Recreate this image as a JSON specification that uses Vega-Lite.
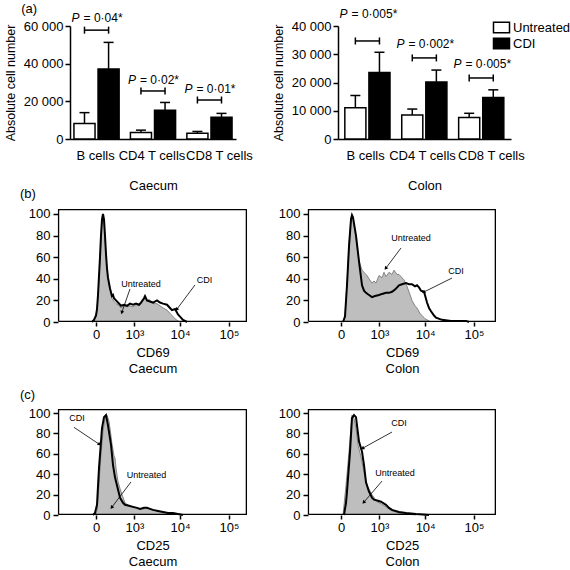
{
  "$schema": "https://vega.github.io/schema/vega-lite/v6.json",
  "padding": {"left": 3, "top": 2, "right": 0, "bottom": 0},
  "background": "white",
  "config": {
    "font": "Liberation Sans",
    "view": {"stroke": null},
    "axis": {"labelFont": "Liberation Sans", "titleFont": "Liberation Sans", "labelColor": "black", "titleColor": "black", "domainColor": "black", "tickColor": "black", "labelFontSize": 13, "titleFontSize": 13, "titleFontWeight": "normal", "grid": false},
    "title": {"font": "Liberation Sans", "fontSize": 13, "fontWeight": "normal", "color": "black"},
    "legend": {"labelFont": "Liberation Sans"}
  },
  "datasets": {
    "bars": [
      {"site": "Caecum", "cell": "B cells", "group": "Untreated", "mean": 8200, "upper": 14000},
      {"site": "Caecum", "cell": "B cells", "group": "CDI", "mean": 37200, "upper": 51300},
      {"site": "Caecum", "cell": "CD4 T cells", "group": "Untreated", "mean": 3400, "upper": 4700},
      {"site": "Caecum", "cell": "CD4 T cells", "group": "CDI", "mean": 15300, "upper": 19400},
      {"site": "Caecum", "cell": "CD8 T cells", "group": "Untreated", "mean": 3100, "upper": 4000},
      {"site": "Caecum", "cell": "CD8 T cells", "group": "CDI", "mean": 11500, "upper": 13600},
      {"site": "Colon", "cell": "B cells", "group": "Untreated", "mean": 11100, "upper": 15400},
      {"site": "Colon", "cell": "B cells", "group": "CDI", "mean": 23500, "upper": 30700},
      {"site": "Colon", "cell": "CD4 T cells", "group": "Untreated", "mean": 8500, "upper": 10600},
      {"site": "Colon", "cell": "CD4 T cells", "group": "CDI", "mean": 20200, "upper": 24400},
      {"site": "Colon", "cell": "CD8 T cells", "group": "Untreated", "mean": 7600, "upper": 9100},
      {"site": "Colon", "cell": "CD8 T cells", "group": "CDI", "mean": 14700, "upper": 17400}
    ],
    "brackets": [
      {"site": "Caecum", "cell": "B cells", "group": "Untreated", "level": 57800},
      {"site": "Caecum", "cell": "B cells", "group": "CDI", "level": 57800},
      {"site": "Caecum", "cell": "CD4 T cells", "group": "Untreated", "level": 25500},
      {"site": "Caecum", "cell": "CD4 T cells", "group": "CDI", "level": 25500},
      {"site": "Caecum", "cell": "CD8 T cells", "group": "Untreated", "level": 20700},
      {"site": "Caecum", "cell": "CD8 T cells", "group": "CDI", "level": 20700},
      {"site": "Colon", "cell": "B cells", "group": "Untreated", "level": 34700},
      {"site": "Colon", "cell": "B cells", "group": "CDI", "level": 34700},
      {"site": "Colon", "cell": "CD4 T cells", "group": "Untreated", "level": 28700},
      {"site": "Colon", "cell": "CD4 T cells", "group": "CDI", "level": 28700},
      {"site": "Colon", "cell": "CD8 T cells", "group": "Untreated", "level": 21600},
      {"site": "Colon", "cell": "CD8 T cells", "group": "CDI", "level": 21600}
    ],
    "pvals": [
      {"site": "Caecum", "cell": "B cells", "ylab": 64200, "rest": "= 0·04*"},
      {"site": "Caecum", "cell": "CD4 T cells", "ylab": 31300, "rest": "= 0·02*"},
      {"site": "Caecum", "cell": "CD8 T cells", "ylab": 26500, "rest": "= 0·01*"},
      {"site": "Colon", "cell": "B cells", "ylab": 44300, "rest": "= 0·005*"},
      {"site": "Colon", "cell": "CD4 T cells", "ylab": 33600, "rest": "= 0·002*"},
      {"site": "Colon", "cell": "CD8 T cells", "ylab": 26600, "rest": "= 0·005*"}
    ],
    "hist": [
      {"p": "bCa", "s": "CDI", "fx": -41, "n": 0},
      {"p": "bCa", "s": "CDI", "fx": -20, "n": 2},
      {"p": "bCa", "s": "CDI", "fx": 0, "n": 6},
      {"p": "bCa", "s": "CDI", "fx": 9.6, "n": 12},
      {"p": "bCa", "s": "CDI", "fx": 19.6, "n": 25},
      {"p": "bCa", "s": "CDI", "fx": 41, "n": 60},
      {"p": "bCa", "s": "CDI", "fx": 52.6, "n": 80},
      {"p": "bCa", "s": "CDI", "fx": 64.7, "n": 95},
      {"p": "bCa", "s": "CDI", "fx": 77.4, "n": 100},
      {"p": "bCa", "s": "CDI", "fx": 90.7, "n": 95},
      {"p": "bCa", "s": "CDI", "fx": 104.6, "n": 80},
      {"p": "bCa", "s": "CDI", "fx": 119, "n": 63},
      {"p": "bCa", "s": "CDI", "fx": 134, "n": 50},
      {"p": "bCa", "s": "CDI", "fx": 150, "n": 41},
      {"p": "bCa", "s": "CDI", "fx": 185, "n": 31},
      {"p": "bCa", "s": "CDI", "fx": 222, "n": 24},
      {"p": "bCa", "s": "CDI", "fx": 243, "n": 25},
      {"p": "bCa", "s": "CDI", "fx": 264, "n": 22},
      {"p": "bCa", "s": "CDI", "fx": 309, "n": 20},
      {"p": "bCa", "s": "CDI", "fx": 359, "n": 18},
      {"p": "bCa", "s": "CDI", "fx": 443, "n": 15},
      {"p": "bCa", "s": "CDI", "fx": 540, "n": 16},
      {"p": "bCa", "s": "CDI", "fx": 651, "n": 15},
      {"p": "bCa", "s": "CDI", "fx": 780, "n": 17},
      {"p": "bCa", "s": "CDI", "fx": 927, "n": 16},
      {"p": "bCa", "s": "CDI", "fx": 1097, "n": 17},
      {"p": "bCa", "s": "CDI", "fx": 1292, "n": 16},
      {"p": "bCa", "s": "CDI", "fx": 1438, "n": 18},
      {"p": "bCa", "s": "CDI", "fx": 1684, "n": 22},
      {"p": "bCa", "s": "CDI", "fx": 1775, "n": 24},
      {"p": "bCa", "s": "CDI", "fx": 1968, "n": 20},
      {"p": "bCa", "s": "CDI", "fx": 2294, "n": 19},
      {"p": "bCa", "s": "CDI", "fx": 2670, "n": 18},
      {"p": "bCa", "s": "CDI", "fx": 3260, "n": 20},
      {"p": "bCa", "s": "CDI", "fx": 3780, "n": 18},
      {"p": "bCa", "s": "CDI", "fx": 4380, "n": 17},
      {"p": "bCa", "s": "CDI", "fx": 5320, "n": 16},
      {"p": "bCa", "s": "CDI", "fx": 6150, "n": 13},
      {"p": "bCa", "s": "CDI", "fx": 6770, "n": 11},
      {"p": "bCa", "s": "CDI", "fx": 7820, "n": 12},
      {"p": "bCa", "s": "CDI", "fx": 9030, "n": 7},
      {"p": "bCa", "s": "CDI", "fx": 9932, "n": 5},
      {"p": "bCa", "s": "CDI", "fx": 11460, "n": 2},
      {"p": "bCa", "s": "CDI", "fx": 12600, "n": 1},
      {"p": "bCa", "s": "CDI", "fx": 13850, "n": 0},
      {"p": "bCa", "s": "Untreated", "fx": -30, "n": 0},
      {"p": "bCa", "s": "Untreated", "fx": 0, "n": 5},
      {"p": "bCa", "s": "Untreated", "fx": 19.6, "n": 22},
      {"p": "bCa", "s": "Untreated", "fx": 41, "n": 57},
      {"p": "bCa", "s": "Untreated", "fx": 52.6, "n": 77},
      {"p": "bCa", "s": "Untreated", "fx": 64.7, "n": 93},
      {"p": "bCa", "s": "Untreated", "fx": 77.4, "n": 98},
      {"p": "bCa", "s": "Untreated", "fx": 90.7, "n": 94},
      {"p": "bCa", "s": "Untreated", "fx": 104.6, "n": 79},
      {"p": "bCa", "s": "Untreated", "fx": 119, "n": 62},
      {"p": "bCa", "s": "Untreated", "fx": 134, "n": 49},
      {"p": "bCa", "s": "Untreated", "fx": 150, "n": 40},
      {"p": "bCa", "s": "Untreated", "fx": 185, "n": 30},
      {"p": "bCa", "s": "Untreated", "fx": 222, "n": 22},
      {"p": "bCa", "s": "Untreated", "fx": 264, "n": 19},
      {"p": "bCa", "s": "Untreated", "fx": 309, "n": 17},
      {"p": "bCa", "s": "Untreated", "fx": 359, "n": 16},
      {"p": "bCa", "s": "Untreated", "fx": 443, "n": 13},
      {"p": "bCa", "s": "Untreated", "fx": 540, "n": 15},
      {"p": "bCa", "s": "Untreated", "fx": 651, "n": 14},
      {"p": "bCa", "s": "Untreated", "fx": 780, "n": 15},
      {"p": "bCa", "s": "Untreated", "fx": 927, "n": 14},
      {"p": "bCa", "s": "Untreated", "fx": 1097, "n": 16},
      {"p": "bCa", "s": "Untreated", "fx": 1292, "n": 15},
      {"p": "bCa", "s": "Untreated", "fx": 1438, "n": 17},
      {"p": "bCa", "s": "Untreated", "fx": 1684, "n": 21},
      {"p": "bCa", "s": "Untreated", "fx": 1775, "n": 23},
      {"p": "bCa", "s": "Untreated", "fx": 1968, "n": 19},
      {"p": "bCa", "s": "Untreated", "fx": 2180, "n": 21},
      {"p": "bCa", "s": "Untreated", "fx": 2294, "n": 20},
      {"p": "bCa", "s": "Untreated", "fx": 2670, "n": 17},
      {"p": "bCa", "s": "Untreated", "fx": 3260, "n": 17},
      {"p": "bCa", "s": "Untreated", "fx": 3780, "n": 15},
      {"p": "bCa", "s": "Untreated", "fx": 4380, "n": 13},
      {"p": "bCa", "s": "Untreated", "fx": 5320, "n": 11},
      {"p": "bCa", "s": "Untreated", "fx": 6150, "n": 8},
      {"p": "bCa", "s": "Untreated", "fx": 6770, "n": 6},
      {"p": "bCa", "s": "Untreated", "fx": 7820, "n": 3},
      {"p": "bCa", "s": "Untreated", "fx": 9030, "n": 1},
      {"p": "bCa", "s": "Untreated", "fx": 9932, "n": 0},
      {"p": "bCo", "s": "CDI", "fx": 19.6, "n": 0},
      {"p": "bCo", "s": "CDI", "fx": 41, "n": 5},
      {"p": "bCo", "s": "CDI", "fx": 64.7, "n": 34},
      {"p": "bCo", "s": "CDI", "fx": 90.7, "n": 70},
      {"p": "bCo", "s": "CDI", "fx": 119, "n": 95},
      {"p": "bCo", "s": "CDI", "fx": 134, "n": 99},
      {"p": "bCo", "s": "CDI", "fx": 150, "n": 97},
      {"p": "bCo", "s": "CDI", "fx": 203, "n": 80},
      {"p": "bCo", "s": "CDI", "fx": 264, "n": 56},
      {"p": "bCo", "s": "CDI", "fx": 334, "n": 34},
      {"p": "bCo", "s": "CDI", "fx": 386, "n": 29},
      {"p": "bCo", "s": "CDI", "fx": 443, "n": 27},
      {"p": "bCo", "s": "CDI", "fx": 540, "n": 25},
      {"p": "bCo", "s": "CDI", "fx": 651, "n": 23},
      {"p": "bCo", "s": "CDI", "fx": 780, "n": 24},
      {"p": "bCo", "s": "CDI", "fx": 981, "n": 25},
      {"p": "bCo", "s": "CDI", "fx": 1159, "n": 26},
      {"p": "bCo", "s": "CDI", "fx": 1438, "n": 27},
      {"p": "bCo", "s": "CDI", "fx": 1684, "n": 27},
      {"p": "bCo", "s": "CDI", "fx": 1968, "n": 28},
      {"p": "bCo", "s": "CDI", "fx": 2294, "n": 30},
      {"p": "bCo", "s": "CDI", "fx": 2806, "n": 34},
      {"p": "bCo", "s": "CDI", "fx": 3260, "n": 35},
      {"p": "bCo", "s": "CDI", "fx": 3970, "n": 36},
      {"p": "bCo", "s": "CDI", "fx": 4598, "n": 35},
      {"p": "bCo", "s": "CDI", "fx": 5320, "n": 35},
      {"p": "bCo", "s": "CDI", "fx": 6150, "n": 33},
      {"p": "bCo", "s": "CDI", "fx": 6770, "n": 34},
      {"p": "bCo", "s": "CDI", "fx": 7456, "n": 32},
      {"p": "bCo", "s": "CDI", "fx": 8206, "n": 29},
      {"p": "bCo", "s": "CDI", "fx": 9480, "n": 28},
      {"p": "bCo", "s": "CDI", "fx": 10930, "n": 18},
      {"p": "bCo", "s": "CDI", "fx": 12016, "n": 13},
      {"p": "bCo", "s": "CDI", "fx": 13216, "n": 10},
      {"p": "bCo", "s": "CDI", "fx": 15240, "n": 6},
      {"p": "bCo", "s": "CDI", "fx": 16740, "n": 4},
      {"p": "bCo", "s": "CDI", "fx": 22220, "n": 2},
      {"p": "bCo", "s": "CDI", "fx": 33950, "n": 1},
      {"p": "bCo", "s": "CDI", "fx": 68600, "n": 1},
      {"p": "bCo", "s": "CDI", "fx": 78980, "n": 0},
      {"p": "bCo", "s": "Untreated", "fx": 19.6, "n": 0},
      {"p": "bCo", "s": "Untreated", "fx": 41, "n": 6},
      {"p": "bCo", "s": "Untreated", "fx": 64.7, "n": 36},
      {"p": "bCo", "s": "Untreated", "fx": 90.7, "n": 72},
      {"p": "bCo", "s": "Untreated", "fx": 119, "n": 96},
      {"p": "bCo", "s": "Untreated", "fx": 134, "n": 99},
      {"p": "bCo", "s": "Untreated", "fx": 150, "n": 96},
      {"p": "bCo", "s": "Untreated", "fx": 203, "n": 78},
      {"p": "bCo", "s": "Untreated", "fx": 264, "n": 57},
      {"p": "bCo", "s": "Untreated", "fx": 334, "n": 48},
      {"p": "bCo", "s": "Untreated", "fx": 414, "n": 45},
      {"p": "bCo", "s": "Untreated", "fx": 474, "n": 43},
      {"p": "bCo", "s": "Untreated", "fx": 540, "n": 40},
      {"p": "bCo", "s": "Untreated", "fx": 651, "n": 36},
      {"p": "bCo", "s": "Untreated", "fx": 735, "n": 38},
      {"p": "bCo", "s": "Untreated", "fx": 826, "n": 36},
      {"p": "bCo", "s": "Untreated", "fx": 981, "n": 43},
      {"p": "bCo", "s": "Untreated", "fx": 1159, "n": 41},
      {"p": "bCo", "s": "Untreated", "fx": 1292, "n": 46},
      {"p": "bCo", "s": "Untreated", "fx": 1438, "n": 42},
      {"p": "bCo", "s": "Untreated", "fx": 1684, "n": 46},
      {"p": "bCo", "s": "Untreated", "fx": 1968, "n": 44},
      {"p": "bCo", "s": "Untreated", "fx": 2180, "n": 48},
      {"p": "bCo", "s": "Untreated", "fx": 2538, "n": 44},
      {"p": "bCo", "s": "Untreated", "fx": 2806, "n": 44},
      {"p": "bCo", "s": "Untreated", "fx": 3260, "n": 41},
      {"p": "bCo", "s": "Untreated", "fx": 3598, "n": 39},
      {"p": "bCo", "s": "Untreated", "fx": 4170, "n": 33},
      {"p": "bCo", "s": "Untreated", "fx": 4598, "n": 28},
      {"p": "bCo", "s": "Untreated", "fx": 5320, "n": 20},
      {"p": "bCo", "s": "Untreated", "fx": 6150, "n": 15},
      {"p": "bCo", "s": "Untreated", "fx": 6770, "n": 13},
      {"p": "bCo", "s": "Untreated", "fx": 7820, "n": 8},
      {"p": "bCo", "s": "Untreated", "fx": 8610, "n": 6},
      {"p": "bCo", "s": "Untreated", "fx": 9932, "n": 3},
      {"p": "bCo", "s": "Untreated", "fx": 10930, "n": 2},
      {"p": "bCo", "s": "Untreated", "fx": 13216, "n": 0},
      {"p": "cCa", "s": "CDI", "fx": -30, "n": 0},
      {"p": "cCa", "s": "CDI", "fx": -9.6, "n": 2},
      {"p": "cCa", "s": "CDI", "fx": 9.6, "n": 10},
      {"p": "cCa", "s": "CDI", "fx": 30, "n": 46},
      {"p": "cCa", "s": "CDI", "fx": 52.6, "n": 72},
      {"p": "cCa", "s": "CDI", "fx": 64.7, "n": 85},
      {"p": "cCa", "s": "CDI", "fx": 90.7, "n": 96},
      {"p": "cCa", "s": "CDI", "fx": 119, "n": 98},
      {"p": "cCa", "s": "CDI", "fx": 150, "n": 88},
      {"p": "cCa", "s": "CDI", "fx": 203, "n": 69},
      {"p": "cCa", "s": "CDI", "fx": 243, "n": 49},
      {"p": "cCa", "s": "CDI", "fx": 286, "n": 37},
      {"p": "cCa", "s": "CDI", "fx": 334, "n": 29},
      {"p": "cCa", "s": "CDI", "fx": 414, "n": 17},
      {"p": "cCa", "s": "CDI", "fx": 506, "n": 12},
      {"p": "cCa", "s": "CDI", "fx": 575, "n": 10},
      {"p": "cCa", "s": "CDI", "fx": 735, "n": 9},
      {"p": "cCa", "s": "CDI", "fx": 927, "n": 8},
      {"p": "cCa", "s": "CDI", "fx": 1159, "n": 7},
      {"p": "cCa", "s": "CDI", "fx": 1363, "n": 6},
      {"p": "cCa", "s": "CDI", "fx": 1684, "n": 7},
      {"p": "cCa", "s": "CDI", "fx": 1968, "n": 7},
      {"p": "cCa", "s": "CDI", "fx": 2294, "n": 6},
      {"p": "cCa", "s": "CDI", "fx": 2670, "n": 5},
      {"p": "cCa", "s": "CDI", "fx": 3424, "n": 4},
      {"p": "cCa", "s": "CDI", "fx": 4380, "n": 3},
      {"p": "cCa", "s": "CDI", "fx": 5580, "n": 2},
      {"p": "cCa", "s": "CDI", "fx": 7106, "n": 2},
      {"p": "cCa", "s": "CDI", "fx": 9030, "n": 1},
      {"p": "cCa", "s": "CDI", "fx": 11460, "n": 0},
      {"p": "cCa", "s": "Untreated", "fx": -9.6, "n": 0},
      {"p": "cCa", "s": "Untreated", "fx": 9.6, "n": 4},
      {"p": "cCa", "s": "Untreated", "fx": 30, "n": 30},
      {"p": "cCa", "s": "Untreated", "fx": 52.6, "n": 60},
      {"p": "cCa", "s": "Untreated", "fx": 77.4, "n": 82},
      {"p": "cCa", "s": "Untreated", "fx": 104.6, "n": 95},
      {"p": "cCa", "s": "Untreated", "fx": 134, "n": 98},
      {"p": "cCa", "s": "Untreated", "fx": 167, "n": 92},
      {"p": "cCa", "s": "Untreated", "fx": 185, "n": 85},
      {"p": "cCa", "s": "Untreated", "fx": 222, "n": 70},
      {"p": "cCa", "s": "Untreated", "fx": 264, "n": 58},
      {"p": "cCa", "s": "Untreated", "fx": 286, "n": 56},
      {"p": "cCa", "s": "Untreated", "fx": 309, "n": 46},
      {"p": "cCa", "s": "Untreated", "fx": 359, "n": 33},
      {"p": "cCa", "s": "Untreated", "fx": 414, "n": 26},
      {"p": "cCa", "s": "Untreated", "fx": 474, "n": 20},
      {"p": "cCa", "s": "Untreated", "fx": 575, "n": 12},
      {"p": "cCa", "s": "Untreated", "fx": 735, "n": 9},
      {"p": "cCa", "s": "Untreated", "fx": 927, "n": 8},
      {"p": "cCa", "s": "Untreated", "fx": 1159, "n": 7},
      {"p": "cCa", "s": "Untreated", "fx": 1363, "n": 6},
      {"p": "cCa", "s": "Untreated", "fx": 1684, "n": 6},
      {"p": "cCa", "s": "Untreated", "fx": 1968, "n": 7},
      {"p": "cCa", "s": "Untreated", "fx": 2294, "n": 6},
      {"p": "cCa", "s": "Untreated", "fx": 2670, "n": 5},
      {"p": "cCa", "s": "Untreated", "fx": 3424, "n": 4},
      {"p": "cCa", "s": "Untreated", "fx": 4380, "n": 3},
      {"p": "cCa", "s": "Untreated", "fx": 5580, "n": 2},
      {"p": "cCa", "s": "Untreated", "fx": 7106, "n": 1},
      {"p": "cCa", "s": "Untreated", "fx": 9030, "n": 1},
      {"p": "cCa", "s": "Untreated", "fx": 11460, "n": 0},
      {"p": "cCo", "s": "CDI", "fx": 30, "n": 0},
      {"p": "cCo", "s": "CDI", "fx": 52.6, "n": 12},
      {"p": "cCo", "s": "CDI", "fx": 64.7, "n": 23},
      {"p": "cCo", "s": "CDI", "fx": 104.6, "n": 62},
      {"p": "cCo", "s": "CDI", "fx": 134, "n": 95},
      {"p": "cCo", "s": "CDI", "fx": 167, "n": 98},
      {"p": "cCo", "s": "CDI", "fx": 203, "n": 96},
      {"p": "cCo", "s": "CDI", "fx": 264, "n": 72},
      {"p": "cCo", "s": "CDI", "fx": 334, "n": 62},
      {"p": "cCo", "s": "CDI", "fx": 386, "n": 49},
      {"p": "cCo", "s": "CDI", "fx": 443, "n": 32},
      {"p": "cCo", "s": "CDI", "fx": 540, "n": 23},
      {"p": "cCo", "s": "CDI", "fx": 651, "n": 17},
      {"p": "cCo", "s": "CDI", "fx": 735, "n": 15},
      {"p": "cCo", "s": "CDI", "fx": 927, "n": 14},
      {"p": "cCo", "s": "CDI", "fx": 1097, "n": 13},
      {"p": "cCo", "s": "CDI", "fx": 1438, "n": 10},
      {"p": "cCo", "s": "CDI", "fx": 1684, "n": 7},
      {"p": "cCo", "s": "CDI", "fx": 1968, "n": 5},
      {"p": "cCo", "s": "CDI", "fx": 2806, "n": 3},
      {"p": "cCo", "s": "CDI", "fx": 3970, "n": 2},
      {"p": "cCo", "s": "CDI", "fx": 6454, "n": 1},
      {"p": "cCo", "s": "CDI", "fx": 12016, "n": 0},
      {"p": "cCo", "s": "Untreated", "fx": 19.6, "n": 0},
      {"p": "cCo", "s": "Untreated", "fx": 52.6, "n": 29},
      {"p": "cCo", "s": "Untreated", "fx": 90.7, "n": 62},
      {"p": "cCo", "s": "Untreated", "fx": 134, "n": 98},
      {"p": "cCo", "s": "Untreated", "fx": 167, "n": 95},
      {"p": "cCo", "s": "Untreated", "fx": 203, "n": 85},
      {"p": "cCo", "s": "Untreated", "fx": 243, "n": 69},
      {"p": "cCo", "s": "Untreated", "fx": 309, "n": 57},
      {"p": "cCo", "s": "Untreated", "fx": 386, "n": 42},
      {"p": "cCo", "s": "Untreated", "fx": 474, "n": 29},
      {"p": "cCo", "s": "Untreated", "fx": 651, "n": 20},
      {"p": "cCo", "s": "Untreated", "fx": 875, "n": 13},
      {"p": "cCo", "s": "Untreated", "fx": 1097, "n": 11},
      {"p": "cCo", "s": "Untreated", "fx": 1438, "n": 8},
      {"p": "cCo", "s": "Untreated", "fx": 1684, "n": 6},
      {"p": "cCo", "s": "Untreated", "fx": 1968, "n": 4},
      {"p": "cCo", "s": "Untreated", "fx": 2806, "n": 2},
      {"p": "cCo", "s": "Untreated", "fx": 3970, "n": 1},
      {"p": "cCo", "s": "Untreated", "fx": 6454, "n": 0}
    ],
    "arrowlines": [
      {"p": "bCa", "fx": 780, "n": 30.6, "fx2": 474, "n2": 9.3, "ang": 199},
      {"p": "bCa", "fx": 20220, "n": 34.3, "fx2": 8610, "n2": 12, "ang": 217},
      {"p": "bCo", "fx": 3102, "n": 68.5, "fx2": 1438, "n2": 50, "ang": 217},
      {"p": "bCo", "fx": 35580, "n": 40.7, "fx2": 9480, "n2": 27.8, "ang": 243},
      {"p": "cCa", "fx": -359, "n": 86, "fx2": 30, "n2": 69.6, "ang": 124},
      {"p": "cCa", "fx": 826, "n": 32.4, "fx2": 222, "n2": 7.8, "ang": 217},
      {"p": "cCo", "fx": 1968, "n": 81.4, "fx2": 359, "n2": 65.7, "ang": 241},
      {"p": "cCo", "fx": 1159, "n": 33.3, "fx2": 386, "n2": 12.7, "ang": 221}
    ],
    "arrowlabels": [
      {"p": "bCa", "fx": 1438, "n": 35, "t": "Untreated"},
      {"p": "bCa", "fx": 31640, "n": 38.9, "t": "CDI"},
      {"p": "bCo", "fx": 5067, "n": 77.8, "t": "Untreated"},
      {"p": "bCo", "fx": 42940, "n": 47, "t": "CDI"},
      {"p": "cCa", "fx": -286, "n": 95, "t": "CDI"},
      {"p": "cCa", "fx": 1918, "n": 39, "t": "Untreated"},
      {"p": "cCo", "fx": 2806, "n": 90, "t": "CDI"},
      {"p": "cCo", "fx": 2294, "n": 41, "t": "Untreated"}
    ],
    "framepts": [
      {"p": "bCa", "k": 0, "fx": -950, "n": 0.6},
      {"p": "bCa", "k": 1, "fx": 225000, "n": 0.6},
      {"p": "bCa", "k": 2, "fx": 225000, "n": 104},
      {"p": "bCa", "k": 3, "fx": -950, "n": 104},
      {"p": "bCa", "k": 4, "fx": -950, "n": 0.6},
      {"p": "bCo", "k": 0, "fx": -715, "n": 0.6},
      {"p": "bCo", "k": 1, "fx": 271000, "n": 0.6},
      {"p": "bCo", "k": 2, "fx": 271000, "n": 104},
      {"p": "bCo", "k": 3, "fx": -715, "n": 104},
      {"p": "bCo", "k": 4, "fx": -715, "n": 0.6},
      {"p": "cCa", "k": 0, "fx": -950, "n": 0.6},
      {"p": "cCa", "k": 1, "fx": 225000, "n": 0.6},
      {"p": "cCa", "k": 2, "fx": 225000, "n": 103.4},
      {"p": "cCa", "k": 3, "fx": -950, "n": 103.4},
      {"p": "cCa", "k": 4, "fx": -950, "n": 0.6},
      {"p": "cCo", "k": 0, "fx": -715, "n": 0.6},
      {"p": "cCo", "k": 1, "fx": 271000, "n": 0.6},
      {"p": "cCo", "k": 2, "fx": 271000, "n": 103.4},
      {"p": "cCo", "k": 3, "fx": -715, "n": 103.4},
      {"p": "cCo", "k": 4, "fx": -715, "n": 0.6}
    ]
  },
  "columns": 1,
  "align": "none",
  "spacing": 14,
  "concat": [
    {
      "columns": 1,
      "align": "none",
      "spacing": -4,
      "concat": [
        {
          "title": {"text": "\u00a0\u00a0\u00a0\u00a0(a)", "anchor": "start", "dx": 17, "offset": -8},
          "spacing": 19,
          "resolve": {"scale": {"fill": "independent"}, "legend": {"fill": "independent"}},
          "hconcat": [
            {
              "width": 166, "height": 113,
              "encoding": {
                "x": {"field": "cell", "type": "nominal", "sort": ["B cells", "CD4 T cells", "CD8 T cells"],
                  "scale": {"paddingInner": 0.2, "paddingOuter": 0.07},
                  "axis": {"title": "Caecum", "labelAngle": 0, "ticks": false, "labelPadding": 10, "titlePadding": 17, "domainWidth": 1.5, "labelOverlap": false,
                    "labelOffset": {"condition": {"test": "datum.value === 'CD8 T cells'", "value": 10}, "value": -1}}},
                "y": {"field": "mean", "type": "quantitative", "scale": {"domain": [0, 60000], "nice": false},
                  "axis": {"title": "Absolute cell number", "values": [0, 20000, 40000, 60000], "labelExpr": "replace(format(datum.value, ','), ',', ' ')", "tickSize": 5, "tickWidth": 1.5, "domainWidth": 1.5, "titlePadding": 6, "titleFontSize": 12.5}}
              },
              "layer": [
                {"data": {"name": "bars"}, "transform": [{"filter": "datum.site == 'Caecum'"}],
                  "mark": {"type": "bar", "stroke": "black", "strokeWidth": 1.5},
                  "encoding": {
                    "xOffset": {"field": "group", "type": "nominal", "sort": ["Untreated", "CDI"], "scale": {"paddingInner": 0.125}},
                    "fill": {"field": "group", "type": "nominal", "scale": {"domain": ["Untreated", "CDI"], "range": ["white", "black"]}, "legend": null}
                  }},
                {"data": {"name": "bars"}, "transform": [{"filter": "datum.site == 'Caecum'"}],
                  "mark": {"type": "rule", "color": "black", "strokeWidth": 1.5},
                  "encoding": {
                    "xOffset": {"field": "group", "type": "nominal", "sort": ["Untreated", "CDI"], "scale": {"paddingInner": 0.125}},
                    "y2": {"field": "upper"}
                  }},
                {"data": {"name": "bars"}, "transform": [{"filter": "datum.site == 'Caecum'"}],
                  "mark": {"type": "tick", "orient": "horizontal", "size": 10, "thickness": 1.5, "color": "black", "opacity": 1},
                  "encoding": {
                    "xOffset": {"field": "group", "type": "nominal", "sort": ["Untreated", "CDI"], "scale": {"paddingInner": 0.125}},
                    "y": {"field": "upper", "type": "quantitative"}
                  }},
                {"data": {"name": "brackets"}, "transform": [{"filter": "datum.site == 'Caecum'"}],
                  "mark": {"type": "tick", "orient": "vertical", "size": 7, "thickness": 1.5, "color": "black", "opacity": 1},
                  "encoding": {
                    "xOffset": {"field": "group", "type": "nominal", "sort": ["Untreated", "CDI"], "scale": {"paddingInner": 0.125}},
                    "y": {"field": "level", "type": "quantitative"}
                  }},
                {"data": {"name": "brackets"}, "transform": [{"filter": "datum.site == 'Caecum' && datum.group == 'CDI'"}],
                  "mark": {"type": "tick", "orient": "horizontal", "size": 24, "thickness": 1.5, "color": "black", "opacity": 1},
                  "encoding": {
                    "y": {"field": "level", "type": "quantitative"}
                  }},
                {"data": {"name": "pvals"}, "transform": [{"filter": "datum.site == 'Caecum'"}],
                  "mark": {"type": "text", "text": "P", "fontStyle": "italic", "fontSize": 12, "align": "right", "dx": -17, "baseline": "middle"},
                  "encoding": {
                    "y": {"field": "ylab", "type": "quantitative"}
                  }},
                {"data": {"name": "pvals"}, "transform": [{"filter": "datum.site == 'Caecum'"}],
                  "mark": {"type": "text", "fontSize": 12, "align": "left", "dx": -13, "baseline": "middle"},
                  "encoding": {
                    "y": {"field": "ylab", "type": "quantitative"},
                    "text": {"field": "rest"}
                  }}
              ]
            },
            {
              "width": 173, "height": 113,
              "encoding": {
                "x": {"field": "cell", "type": "nominal", "sort": ["B cells", "CD4 T cells", "CD8 T cells"],
                  "scale": {"paddingInner": 0.2, "paddingOuter": 0.12},
                  "axis": {"title": "Colon", "labelAngle": 0, "ticks": false, "labelPadding": 10, "titlePadding": 17, "domainWidth": 1.5, "labelOverlap": false,
                    "labelOffset": {"condition": {"test": "datum.value === 'CD8 T cells'", "value": 10}, "value": -2}}},
                "y": {"field": "mean", "type": "quantitative", "scale": {"domain": [0, 40000], "nice": false},
                  "axis": {"title": "Absolute cell number", "values": [0, 10000, 20000, 30000, 40000], "labelExpr": "replace(format(datum.value, ','), ',', ' ')", "tickSize": 5, "tickWidth": 1.5, "domainWidth": 1.5, "titlePadding": 6, "titleFontSize": 12.5}}
              },
              "layer": [
                {"data": {"name": "bars"}, "transform": [{"filter": "datum.site == 'Colon'"}],
                  "mark": {"type": "bar", "stroke": "black", "strokeWidth": 1.5},
                  "encoding": {
                    "xOffset": {"field": "group", "type": "nominal", "sort": ["Untreated", "CDI"], "scale": {"paddingInner": 0.125}},
                    "fill": {"field": "group", "type": "nominal", "scale": {"domain": ["Untreated", "CDI"], "range": ["white", "black"]},
                      "legend": {"title": null, "orient": "none", "legendX": 157, "legendY": -5, "symbolType": "M-2.67,-1.78H2.67V1.78H-2.67Z", "symbolSize": 36, "symbolStrokeColor": "black", "symbolStrokeWidth": 1.5, "labelFontSize": 13, "labelColor": "black", "rowPadding": -1, "labelOffset": 5}}
                  }},
                {"data": {"name": "bars"}, "transform": [{"filter": "datum.site == 'Colon'"}],
                  "mark": {"type": "rule", "color": "black", "strokeWidth": 1.5},
                  "encoding": {
                    "xOffset": {"field": "group", "type": "nominal", "sort": ["Untreated", "CDI"], "scale": {"paddingInner": 0.125}},
                    "y2": {"field": "upper"}
                  }},
                {"data": {"name": "bars"}, "transform": [{"filter": "datum.site == 'Colon'"}],
                  "mark": {"type": "tick", "orient": "horizontal", "size": 10, "thickness": 1.5, "color": "black", "opacity": 1},
                  "encoding": {
                    "xOffset": {"field": "group", "type": "nominal", "sort": ["Untreated", "CDI"], "scale": {"paddingInner": 0.125}},
                    "y": {"field": "upper", "type": "quantitative"}
                  }},
                {"data": {"name": "brackets"}, "transform": [{"filter": "datum.site == 'Colon'"}],
                  "mark": {"type": "tick", "orient": "vertical", "size": 7, "thickness": 1.5, "color": "black", "opacity": 1},
                  "encoding": {
                    "xOffset": {"field": "group", "type": "nominal", "sort": ["Untreated", "CDI"], "scale": {"paddingInner": 0.125}},
                    "y": {"field": "level", "type": "quantitative"}
                  }},
                {"data": {"name": "brackets"}, "transform": [{"filter": "datum.site == 'Colon' && datum.group == 'CDI'"}],
                  "mark": {"type": "tick", "orient": "horizontal", "size": 24, "thickness": 1.5, "color": "black", "opacity": 1},
                  "encoding": {
                    "y": {"field": "level", "type": "quantitative"}
                  }},
                {"data": {"name": "pvals"}, "transform": [{"filter": "datum.site == 'Colon'"}],
                  "mark": {"type": "text", "text": "P", "fontStyle": "italic", "fontSize": 12, "align": "right", "dx": -20, "baseline": "middle"},
                  "encoding": {
                    "y": {"field": "ylab", "type": "quantitative"}
                  }},
                {"data": {"name": "pvals"}, "transform": [{"filter": "datum.site == 'Colon'"}],
                  "mark": {"type": "text", "fontSize": 12, "align": "left", "dx": -16, "baseline": "middle"},
                  "encoding": {
                    "y": {"field": "ylab", "type": "quantitative"},
                    "text": {"field": "rest"}
                  }}
              ]
            }
          ]
        },
        {
          "title": {"text": "(b)", "anchor": "start", "dx": 17, "offset": 6},
          "spacing": 19,
          "hconcat": [
            {
              "width": 177, "height": 113,
              "encoding": {
                "x": {"field": "fx", "type": "quantitative", "scale": {"type": "symlog", "constant": 200, "domain": [-981, 231800], "range": [-12, 177], "nice": false, "zero": false},
                  "axis": {"title": ["CD69", "Caecum"], "titleLineHeight": 16, "values": [0, 1000, 10000, 100000], "labelExpr": "datum.value == 0 ? '0' : datum.value == 1000 ? '10³' : datum.value == 10000 ? '10⁴' : '10⁵'", "domain": false, "ticks": true, "tickWidth": 1.5, "tickSize": 4, "labelPadding": 2, "titlePadding": 5}},
                "y": {"field": "n", "type": "quantitative", "scale": {"domain": [0, 104.6], "nice": false},
                  "axis": {"title": null, "values": [0, 20, 40, 60, 80, 100], "domain": false, "ticks": true, "tickWidth": 1.5, "tickSize": 5, "labelPadding": 3, "offset": 12, "minExtent": 55}}
              },
              "layer": [
                {"data": {"name": "hist"}, "transform": [{"filter": "datum.p == 'bCa' && datum.s == 'Untreated'"}],
                  "mark": {"type": "area", "orient": "vertical", "color": "#a3a3a3", "line": {"color": "#6e6e6e", "strokeWidth": 0.8}}},
                {"data": {"name": "hist"}, "transform": [{"filter": "datum.p == 'bCa' && datum.s == 'CDI'"}],
                  "mark": {"type": "line", "color": "black", "strokeWidth": 2}},
                {"data": {"name": "framepts"}, "transform": [{"filter": "datum.p == 'bCa'"}],
                  "mark": {"type": "line", "color": "black", "strokeWidth": 1.3, "clip": false},
                  "encoding": {"order": {"field": "k", "type": "quantitative"}}},
                {"data": {"name": "arrowlines"}, "transform": [{"filter": "datum.p == 'bCa'"}],
                  "mark": {"type": "rule", "color": "black", "strokeWidth": 0.8},
                  "encoding": {"x2": {"field": "fx2"}, "y2": {"field": "n2"}}},
                {"data": {"name": "arrowlines"}, "transform": [{"filter": "datum.p == 'bCa'"}],
                  "mark": {"type": "point", "shape": "triangle", "filled": true, "color": "black", "size": 16, "opacity": 1},
                  "encoding": {
                    "x": {"field": "fx2", "type": "quantitative"},
                    "y": {"field": "n2", "type": "quantitative"},
                    "angle": {"field": "ang", "type": "quantitative", "scale": null}
                  }},
                {"data": {"name": "arrowlabels"}, "transform": [{"filter": "datum.p == 'bCa'"}],
                  "mark": {"type": "text", "fontSize": 9, "baseline": "middle"},
                  "encoding": {"text": {"field": "t"}}}
              ]
            },
            {
              "width": 188, "height": 113,
              "encoding": {
                "x": {"field": "fx", "type": "quantitative", "scale": {"type": "symlog", "constant": 200, "domain": [-735, 279400], "nice": false, "zero": false},
                  "axis": {"title": ["CD69", "Colon"], "titleLineHeight": 16, "values": [0, 1000, 10000, 100000], "labelExpr": "datum.value == 0 ? '0' : datum.value == 1000 ? '10³' : datum.value == 10000 ? '10⁴' : '10⁵'", "domain": false, "ticks": true, "tickWidth": 1.5, "tickSize": 4, "labelPadding": 2, "titlePadding": 5}},
                "y": {"field": "n", "type": "quantitative", "scale": {"domain": [0, 104.6], "nice": false},
                  "axis": {"title": null, "values": [0, 20, 40, 60, 80, 100], "domain": false, "ticks": true, "tickWidth": 1.5, "tickSize": 5, "labelPadding": 3}}
              },
              "layer": [
                {"data": {"name": "hist"}, "transform": [{"filter": "datum.p == 'bCo' && datum.s == 'Untreated'"}],
                  "mark": {"type": "area", "orient": "vertical", "color": "#a3a3a3", "line": {"color": "#6e6e6e", "strokeWidth": 0.8}}},
                {"data": {"name": "hist"}, "transform": [{"filter": "datum.p == 'bCo' && datum.s == 'CDI'"}],
                  "mark": {"type": "line", "color": "black", "strokeWidth": 2}},
                {"data": {"name": "framepts"}, "transform": [{"filter": "datum.p == 'bCo'"}],
                  "mark": {"type": "line", "color": "black", "strokeWidth": 1.3, "clip": false},
                  "encoding": {"order": {"field": "k", "type": "quantitative"}}},
                {"data": {"name": "arrowlines"}, "transform": [{"filter": "datum.p == 'bCo'"}],
                  "mark": {"type": "rule", "color": "black", "strokeWidth": 0.8},
                  "encoding": {"x2": {"field": "fx2"}, "y2": {"field": "n2"}}},
                {"data": {"name": "arrowlines"}, "transform": [{"filter": "datum.p == 'bCo'"}],
                  "mark": {"type": "point", "shape": "triangle", "filled": true, "color": "black", "size": 16, "opacity": 1},
                  "encoding": {
                    "x": {"field": "fx2", "type": "quantitative"},
                    "y": {"field": "n2", "type": "quantitative"},
                    "angle": {"field": "ang", "type": "quantitative", "scale": null}
                  }},
                {"data": {"name": "arrowlabels"}, "transform": [{"filter": "datum.p == 'bCo'"}],
                  "mark": {"type": "text", "fontSize": 9, "baseline": "middle"},
                  "encoding": {"text": {"field": "t"}}}
              ]
            }
          ]
        }
      ]
    },
    {
      "title": {"text": "(c)", "anchor": "start", "dx": 17, "offset": 5},
      "spacing": 19,
      "hconcat": [
        {
          "width": 177, "height": 106,
          "encoding": {
            "x": {"field": "fx", "type": "quantitative", "scale": {"type": "symlog", "constant": 200, "domain": [-981, 231800], "range": [-12, 177], "nice": false, "zero": false},
              "axis": {"title": ["CD25", "Caecum"], "titleLineHeight": 16, "values": [0, 1000, 10000, 100000], "labelExpr": "datum.value == 0 ? '0' : datum.value == 1000 ? '10³' : datum.value == 10000 ? '10⁴' : '10⁵'", "domain": false, "ticks": true, "tickWidth": 1.5, "tickSize": 4, "labelPadding": 2, "titlePadding": 5}},
            "y": {"field": "n", "type": "quantitative", "scale": {"domain": [0, 104], "nice": false},
              "axis": {"title": null, "values": [0, 20, 40, 60, 80, 100], "domain": false, "ticks": true, "tickWidth": 1.5, "tickSize": 5, "labelPadding": 3, "offset": 12, "minExtent": 55}}
          },
          "layer": [
            {"data": {"name": "hist"}, "transform": [{"filter": "datum.p == 'cCa' && datum.s == 'Untreated'"}],
              "mark": {"type": "area", "orient": "vertical", "color": "#a3a3a3", "line": {"color": "#6e6e6e", "strokeWidth": 0.8}}},
            {"data": {"name": "hist"}, "transform": [{"filter": "datum.p == 'cCa' && datum.s == 'CDI'"}],
              "mark": {"type": "line", "color": "black", "strokeWidth": 2}},
            {"data": {"name": "framepts"}, "transform": [{"filter": "datum.p == 'cCa'"}],
              "mark": {"type": "line", "color": "black", "strokeWidth": 1.3, "clip": false},
              "encoding": {"order": {"field": "k", "type": "quantitative"}}},
            {"data": {"name": "arrowlines"}, "transform": [{"filter": "datum.p == 'cCa'"}],
              "mark": {"type": "rule", "color": "black", "strokeWidth": 0.8},
              "encoding": {"x2": {"field": "fx2"}, "y2": {"field": "n2"}}},
            {"data": {"name": "arrowlines"}, "transform": [{"filter": "datum.p == 'cCa'"}],
              "mark": {"type": "point", "shape": "triangle", "filled": true, "color": "black", "size": 16, "opacity": 1},
              "encoding": {
                "x": {"field": "fx2", "type": "quantitative"},
                "y": {"field": "n2", "type": "quantitative"},
                "angle": {"field": "ang", "type": "quantitative", "scale": null}
              }},
            {"data": {"name": "arrowlabels"}, "transform": [{"filter": "datum.p == 'cCa'"}],
              "mark": {"type": "text", "fontSize": 9, "baseline": "middle"},
              "encoding": {"text": {"field": "t"}}}
          ]
        },
        {
          "width": 188, "height": 106,
          "encoding": {
            "x": {"field": "fx", "type": "quantitative", "scale": {"type": "symlog", "constant": 200, "domain": [-735, 279400], "nice": false, "zero": false},
              "axis": {"title": ["CD25", "Colon"], "titleLineHeight": 16, "values": [0, 1000, 10000, 100000], "labelExpr": "datum.value == 0 ? '0' : datum.value == 1000 ? '10³' : datum.value == 10000 ? '10⁴' : '10⁵'", "domain": false, "ticks": true, "tickWidth": 1.5, "tickSize": 4, "labelPadding": 2, "titlePadding": 5}},
            "y": {"field": "n", "type": "quantitative", "scale": {"domain": [0, 104], "nice": false},
              "axis": {"title": null, "values": [0, 20, 40, 60, 80, 100], "domain": false, "ticks": true, "tickWidth": 1.5, "tickSize": 5, "labelPadding": 3}}
          },
          "layer": [
            {"data": {"name": "hist"}, "transform": [{"filter": "datum.p == 'cCo' && datum.s == 'Untreated'"}],
              "mark": {"type": "area", "orient": "vertical", "color": "#a3a3a3", "line": {"color": "#6e6e6e", "strokeWidth": 0.8}}},
            {"data": {"name": "hist"}, "transform": [{"filter": "datum.p == 'cCo' && datum.s == 'CDI'"}],
              "mark": {"type": "line", "color": "black", "strokeWidth": 2}},
            {"data": {"name": "framepts"}, "transform": [{"filter": "datum.p == 'cCo'"}],
              "mark": {"type": "line", "color": "black", "strokeWidth": 1.3, "clip": false},
              "encoding": {"order": {"field": "k", "type": "quantitative"}}},
            {"data": {"name": "arrowlines"}, "transform": [{"filter": "datum.p == 'cCo'"}],
              "mark": {"type": "rule", "color": "black", "strokeWidth": 0.8},
              "encoding": {"x2": {"field": "fx2"}, "y2": {"field": "n2"}}},
            {"data": {"name": "arrowlines"}, "transform": [{"filter": "datum.p == 'cCo'"}],
              "mark": {"type": "point", "shape": "triangle", "filled": true, "color": "black", "size": 16, "opacity": 1},
              "encoding": {
                "x": {"field": "fx2", "type": "quantitative"},
                "y": {"field": "n2", "type": "quantitative"},
                "angle": {"field": "ang", "type": "quantitative", "scale": null}
              }},
            {"data": {"name": "arrowlabels"}, "transform": [{"filter": "datum.p == 'cCo'"}],
              "mark": {"type": "text", "fontSize": 9, "baseline": "middle"},
              "encoding": {"text": {"field": "t"}}}
          ]
        }
      ]
    }
  ]
}
